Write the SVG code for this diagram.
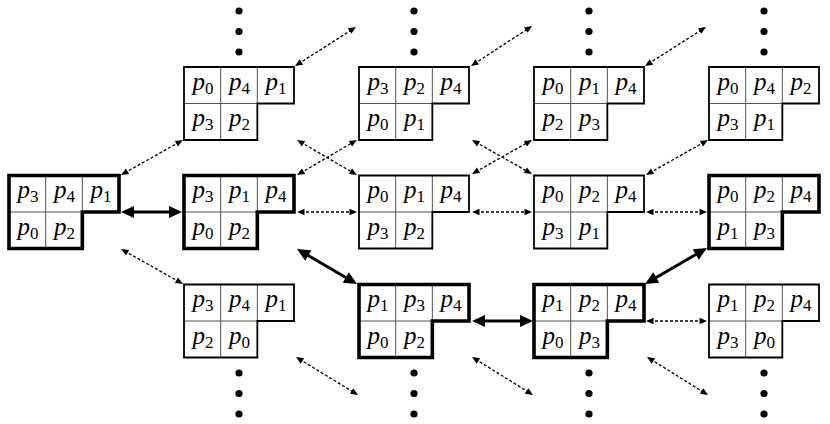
<svg xmlns="http://www.w3.org/2000/svg" xmlns:xlink="http://www.w3.org/1999/xlink" width="830" height="424" viewBox="0 0 830 424">
<style>
.bg{fill:#fff}
.grid{fill:none;stroke:#555;stroke-width:1}
.thin{fill:none;stroke:#000;stroke-width:1.8}
.thick{fill:none;stroke:#000;stroke-width:3.6}
.lbl{font-family:"Liberation Serif","Times New Roman",serif;font-size:25px;text-anchor:middle;fill:#000}
.p{font-style:italic}
.s{font-size:17px}
.dot{fill:#000}
.dash{fill:none;stroke:#000;stroke-width:1.3;stroke-dasharray:3 2;marker-start:url(#hs);marker-end:url(#hs)}
.bold{fill:none;stroke:#000;stroke-width:3;marker-start:url(#hb);marker-end:url(#hb)}
</style>
<defs>
<path id="outline" d="M0,0 H110 V36.5 H73.33 V73 H0 Z"/>
<path id="gridp" d="M36.67,0 V73 M73.33,0 V36.5 M0,36.5 H73.33"/>
<marker id="hs" markerUnits="userSpaceOnUse" markerWidth="8" markerHeight="7" refX="3.5" refY="3.25" orient="auto-start-reverse" overflow="visible"><path d="M0,0 L7.5,3.25 L0,6.5 Z" fill="#000"/></marker>
<marker id="hb" markerUnits="userSpaceOnUse" markerWidth="14" markerHeight="12" refX="5" refY="6" orient="auto-start-reverse" overflow="visible"><path d="M0,0 L13,6 L0,12 Z" fill="#000"/></marker>
</defs>
<rect class="bg" x="0" y="0" width="830" height="424"/>

<g id="connectors">
<line class="bold" x1="129" y1="212" x2="174" y2="212"/>
<line class="bold" x1="303.9" y1="253" x2="350.1" y2="280"/>
<line class="bold" x1="480" y1="321" x2="525" y2="321"/>
<line class="bold" x1="651.9" y1="280" x2="700.1" y2="252"/>
<line class="dash" x1="124.5" y1="173" x2="179.5" y2="142"/>
<line class="dash" x1="124.5" y1="251" x2="179.5" y2="282"/>
<line class="dash" x1="298.4" y1="63.8" x2="352.6" y2="29.2"/>
<line class="dash" x1="300.5" y1="142" x2="353.5" y2="173"/>
<line class="dash" x1="300.5" y1="173" x2="353.5" y2="142"/>
<line class="dash" x1="301" y1="212" x2="353" y2="212"/>
<line class="dash" x1="299.4" y1="359.1" x2="354.6" y2="392.9"/>
<line class="dash" x1="474.3" y1="63.8" x2="528.7" y2="28.2"/>
<line class="dash" x1="475.5" y1="142" x2="528.5" y2="172"/>
<line class="dash" x1="475.5" y1="172" x2="528.5" y2="142"/>
<line class="dash" x1="476" y1="212" x2="528" y2="212"/>
<line class="dash" x1="475.4" y1="359.1" x2="529.6" y2="392.9"/>
<line class="dash" x1="648.4" y1="63.8" x2="702.6" y2="29.2"/>
<line class="dash" x1="649.5" y1="173" x2="704.5" y2="142"/>
<line class="dash" x1="650" y1="212" x2="703" y2="212"/>
<line class="dash" x1="650" y1="321" x2="703" y2="321"/>
<line class="dash" x1="650.4" y1="359.1" x2="704.6" y2="392.9"/>
</g>

<g id="dots">
<circle class="dot" cx="239" cy="11" r="3.6"/><circle class="dot" cx="239" cy="31.5" r="3.6"/><circle class="dot" cx="239" cy="52" r="3.6"/>
<circle class="dot" cx="414" cy="11" r="3.6"/><circle class="dot" cx="414" cy="31.5" r="3.6"/><circle class="dot" cx="414" cy="52" r="3.6"/>
<circle class="dot" cx="589" cy="11" r="3.6"/><circle class="dot" cx="589" cy="31.5" r="3.6"/><circle class="dot" cx="589" cy="52" r="3.6"/>
<circle class="dot" cx="764" cy="11" r="3.6"/><circle class="dot" cx="764" cy="31.5" r="3.6"/><circle class="dot" cx="764" cy="52" r="3.6"/>
<circle class="dot" cx="239" cy="373" r="3.6"/><circle class="dot" cx="239" cy="393.5" r="3.6"/><circle class="dot" cx="239" cy="414" r="3.6"/>
<circle class="dot" cx="414" cy="373" r="3.6"/><circle class="dot" cx="414" cy="393.5" r="3.6"/><circle class="dot" cx="414" cy="414" r="3.6"/>
<circle class="dot" cx="589" cy="373" r="3.6"/><circle class="dot" cx="589" cy="393.5" r="3.6"/><circle class="dot" cx="589" cy="414" r="3.6"/>
<circle class="dot" cx="764" cy="373" r="3.6"/><circle class="dot" cx="764" cy="393.5" r="3.6"/><circle class="dot" cx="764" cy="414" r="3.6"/>
</g>

<!-- middle row -->
<g id="n-m0" transform="translate(9,175.5)">
<use xlink:href="#gridp" class="grid"/><use xlink:href="#outline" class="thick"/>
<text class="lbl" x="19" y="22.5"><tspan class="p">p</tspan><tspan class="s" dy="4">3</tspan></text>
<text class="lbl" x="55.5" y="22.5"><tspan class="p">p</tspan><tspan class="s" dy="4">4</tspan></text>
<text class="lbl" x="92" y="22.5"><tspan class="p">p</tspan><tspan class="s" dy="4">1</tspan></text>
<text class="lbl" x="19" y="59"><tspan class="p">p</tspan><tspan class="s" dy="4">0</tspan></text>
<text class="lbl" x="55.5" y="59"><tspan class="p">p</tspan><tspan class="s" dy="4">2</tspan></text>
</g>
<g id="n-m1" transform="translate(184,175.5)">
<use xlink:href="#gridp" class="grid"/><use xlink:href="#outline" class="thick"/>
<text class="lbl" x="19" y="22.5"><tspan class="p">p</tspan><tspan class="s" dy="4">3</tspan></text>
<text class="lbl" x="55.5" y="22.5"><tspan class="p">p</tspan><tspan class="s" dy="4">1</tspan></text>
<text class="lbl" x="92" y="22.5"><tspan class="p">p</tspan><tspan class="s" dy="4">4</tspan></text>
<text class="lbl" x="19" y="59"><tspan class="p">p</tspan><tspan class="s" dy="4">0</tspan></text>
<text class="lbl" x="55.5" y="59"><tspan class="p">p</tspan><tspan class="s" dy="4">2</tspan></text>
</g>
<g id="n-m2" transform="translate(359,175.5)">
<use xlink:href="#gridp" class="grid"/><use xlink:href="#outline" class="thin"/>
<text class="lbl" x="19" y="22.5"><tspan class="p">p</tspan><tspan class="s" dy="4">0</tspan></text>
<text class="lbl" x="55.5" y="22.5"><tspan class="p">p</tspan><tspan class="s" dy="4">1</tspan></text>
<text class="lbl" x="92" y="22.5"><tspan class="p">p</tspan><tspan class="s" dy="4">4</tspan></text>
<text class="lbl" x="19" y="59"><tspan class="p">p</tspan><tspan class="s" dy="4">3</tspan></text>
<text class="lbl" x="55.5" y="59"><tspan class="p">p</tspan><tspan class="s" dy="4">2</tspan></text>
</g>
<g id="n-m3" transform="translate(534,175.5)">
<use xlink:href="#gridp" class="grid"/><use xlink:href="#outline" class="thin"/>
<text class="lbl" x="19" y="22.5"><tspan class="p">p</tspan><tspan class="s" dy="4">0</tspan></text>
<text class="lbl" x="55.5" y="22.5"><tspan class="p">p</tspan><tspan class="s" dy="4">2</tspan></text>
<text class="lbl" x="92" y="22.5"><tspan class="p">p</tspan><tspan class="s" dy="4">4</tspan></text>
<text class="lbl" x="19" y="59"><tspan class="p">p</tspan><tspan class="s" dy="4">3</tspan></text>
<text class="lbl" x="55.5" y="59"><tspan class="p">p</tspan><tspan class="s" dy="4">1</tspan></text>
</g>
<g id="n-m4" transform="translate(709,175.5)">
<use xlink:href="#gridp" class="grid"/><use xlink:href="#outline" class="thick"/>
<text class="lbl" x="19" y="22.5"><tspan class="p">p</tspan><tspan class="s" dy="4">0</tspan></text>
<text class="lbl" x="55.5" y="22.5"><tspan class="p">p</tspan><tspan class="s" dy="4">2</tspan></text>
<text class="lbl" x="92" y="22.5"><tspan class="p">p</tspan><tspan class="s" dy="4">4</tspan></text>
<text class="lbl" x="19" y="59"><tspan class="p">p</tspan><tspan class="s" dy="4">1</tspan></text>
<text class="lbl" x="55.5" y="59"><tspan class="p">p</tspan><tspan class="s" dy="4">3</tspan></text>
</g>

<!-- top row -->
<g id="n-t1" transform="translate(184,67)">
<use xlink:href="#gridp" class="grid"/><use xlink:href="#outline" class="thin"/>
<text class="lbl" x="19" y="22.5"><tspan class="p">p</tspan><tspan class="s" dy="4">0</tspan></text>
<text class="lbl" x="55.5" y="22.5"><tspan class="p">p</tspan><tspan class="s" dy="4">4</tspan></text>
<text class="lbl" x="92" y="22.5"><tspan class="p">p</tspan><tspan class="s" dy="4">1</tspan></text>
<text class="lbl" x="19" y="59"><tspan class="p">p</tspan><tspan class="s" dy="4">3</tspan></text>
<text class="lbl" x="55.5" y="59"><tspan class="p">p</tspan><tspan class="s" dy="4">2</tspan></text>
</g>
<g id="n-t2" transform="translate(359,67)">
<use xlink:href="#gridp" class="grid"/><use xlink:href="#outline" class="thin"/>
<text class="lbl" x="19" y="22.5"><tspan class="p">p</tspan><tspan class="s" dy="4">3</tspan></text>
<text class="lbl" x="55.5" y="22.5"><tspan class="p">p</tspan><tspan class="s" dy="4">2</tspan></text>
<text class="lbl" x="92" y="22.5"><tspan class="p">p</tspan><tspan class="s" dy="4">4</tspan></text>
<text class="lbl" x="19" y="59"><tspan class="p">p</tspan><tspan class="s" dy="4">0</tspan></text>
<text class="lbl" x="55.5" y="59"><tspan class="p">p</tspan><tspan class="s" dy="4">1</tspan></text>
</g>
<g id="n-t3" transform="translate(534,67)">
<use xlink:href="#gridp" class="grid"/><use xlink:href="#outline" class="thin"/>
<text class="lbl" x="19" y="22.5"><tspan class="p">p</tspan><tspan class="s" dy="4">0</tspan></text>
<text class="lbl" x="55.5" y="22.5"><tspan class="p">p</tspan><tspan class="s" dy="4">1</tspan></text>
<text class="lbl" x="92" y="22.5"><tspan class="p">p</tspan><tspan class="s" dy="4">4</tspan></text>
<text class="lbl" x="19" y="59"><tspan class="p">p</tspan><tspan class="s" dy="4">2</tspan></text>
<text class="lbl" x="55.5" y="59"><tspan class="p">p</tspan><tspan class="s" dy="4">3</tspan></text>
</g>
<g id="n-t4" transform="translate(709,67)">
<use xlink:href="#gridp" class="grid"/><use xlink:href="#outline" class="thin"/>
<text class="lbl" x="19" y="22.5"><tspan class="p">p</tspan><tspan class="s" dy="4">0</tspan></text>
<text class="lbl" x="55.5" y="22.5"><tspan class="p">p</tspan><tspan class="s" dy="4">4</tspan></text>
<text class="lbl" x="92" y="22.5"><tspan class="p">p</tspan><tspan class="s" dy="4">2</tspan></text>
<text class="lbl" x="19" y="59"><tspan class="p">p</tspan><tspan class="s" dy="4">3</tspan></text>
<text class="lbl" x="55.5" y="59"><tspan class="p">p</tspan><tspan class="s" dy="4">1</tspan></text>
</g>

<!-- bottom row -->
<g id="n-b1" transform="translate(184,284.5)">
<use xlink:href="#gridp" class="grid"/><use xlink:href="#outline" class="thin"/>
<text class="lbl" x="19" y="22.5"><tspan class="p">p</tspan><tspan class="s" dy="4">3</tspan></text>
<text class="lbl" x="55.5" y="22.5"><tspan class="p">p</tspan><tspan class="s" dy="4">4</tspan></text>
<text class="lbl" x="92" y="22.5"><tspan class="p">p</tspan><tspan class="s" dy="4">1</tspan></text>
<text class="lbl" x="19" y="59"><tspan class="p">p</tspan><tspan class="s" dy="4">2</tspan></text>
<text class="lbl" x="55.5" y="59"><tspan class="p">p</tspan><tspan class="s" dy="4">0</tspan></text>
</g>
<g id="n-b2" transform="translate(359,284.5)">
<use xlink:href="#gridp" class="grid"/><use xlink:href="#outline" class="thick"/>
<text class="lbl" x="19" y="22.5"><tspan class="p">p</tspan><tspan class="s" dy="4">1</tspan></text>
<text class="lbl" x="55.5" y="22.5"><tspan class="p">p</tspan><tspan class="s" dy="4">3</tspan></text>
<text class="lbl" x="92" y="22.5"><tspan class="p">p</tspan><tspan class="s" dy="4">4</tspan></text>
<text class="lbl" x="19" y="59"><tspan class="p">p</tspan><tspan class="s" dy="4">0</tspan></text>
<text class="lbl" x="55.5" y="59"><tspan class="p">p</tspan><tspan class="s" dy="4">2</tspan></text>
</g>
<g id="n-b3" transform="translate(534,284.5)">
<use xlink:href="#gridp" class="grid"/><use xlink:href="#outline" class="thick"/>
<text class="lbl" x="19" y="22.5"><tspan class="p">p</tspan><tspan class="s" dy="4">1</tspan></text>
<text class="lbl" x="55.5" y="22.5"><tspan class="p">p</tspan><tspan class="s" dy="4">2</tspan></text>
<text class="lbl" x="92" y="22.5"><tspan class="p">p</tspan><tspan class="s" dy="4">4</tspan></text>
<text class="lbl" x="19" y="59"><tspan class="p">p</tspan><tspan class="s" dy="4">0</tspan></text>
<text class="lbl" x="55.5" y="59"><tspan class="p">p</tspan><tspan class="s" dy="4">3</tspan></text>
</g>
<g id="n-b4" transform="translate(709,284.5)">
<use xlink:href="#gridp" class="grid"/><use xlink:href="#outline" class="thin"/>
<text class="lbl" x="19" y="22.5"><tspan class="p">p</tspan><tspan class="s" dy="4">1</tspan></text>
<text class="lbl" x="55.5" y="22.5"><tspan class="p">p</tspan><tspan class="s" dy="4">2</tspan></text>
<text class="lbl" x="92" y="22.5"><tspan class="p">p</tspan><tspan class="s" dy="4">4</tspan></text>
<text class="lbl" x="19" y="59"><tspan class="p">p</tspan><tspan class="s" dy="4">3</tspan></text>
<text class="lbl" x="55.5" y="59"><tspan class="p">p</tspan><tspan class="s" dy="4">0</tspan></text>
</g>
</svg>
